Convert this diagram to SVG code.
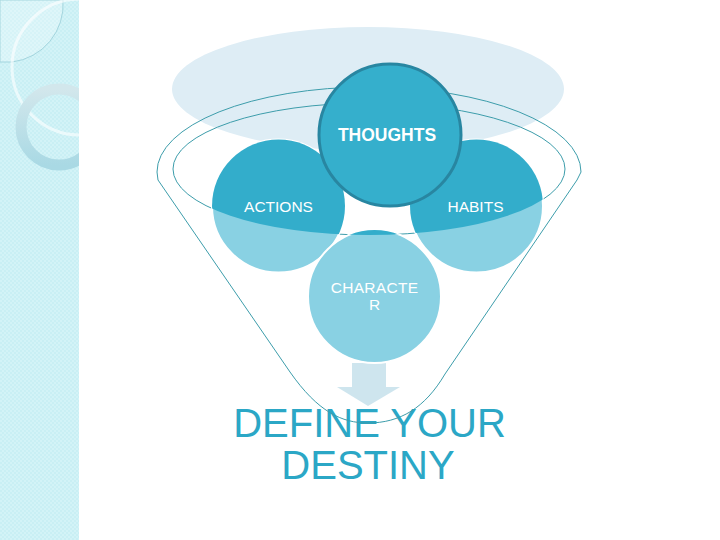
<svg xmlns="http://www.w3.org/2000/svg" width="720" height="540" viewBox="0 0 720 540">
<style>
.funnel{fill:none;stroke:#3d9dab;stroke-width:1}
.light{fill:#89d1e3;stroke:#ffffff;stroke-width:2}
.dark{fill:#33adcb}
.lbl{font-family:"Liberation Sans",Arial,sans-serif;font-size:15.5px;fill:#ffffff;text-anchor:middle}
.big{font-family:"Liberation Sans",Arial,sans-serif;font-size:40px;fill:#2ba7c6;text-anchor:middle}
</style>
<defs>
<pattern id="dots" width="4" height="4" patternUnits="userSpaceOnUse">
<rect width="4" height="4" fill="#c9eff4"/>
<rect width="2" height="2" fill="#d3f3f7"/>
<rect x="2" y="2" width="2" height="2" fill="#d3f3f7"/>
</pattern>
<clipPath id="strip"><rect x="0" y="0" width="79" height="540"/></clipPath>
<clipPath id="inner"><ellipse cx="369" cy="169" rx="196" ry="66"/></clipPath>
<linearGradient id="ring" x1="0" y1="0" x2="0" y2="1">
<stop offset="0" stop-color="#d2e7ec"/>
<stop offset="1" stop-color="#a9d9e4"/>
</linearGradient>
</defs>
<rect width="720" height="540" fill="#ffffff"/>
<g id="background">
<rect x="0" y="0" width="79" height="540" fill="url(#dots)"/>
<g clip-path="url(#strip)">
<path d="M0,0 L63,0 A58,58 0 0 1 12,62 L0,62 Z" fill="#ffffff" fill-opacity="0.25" stroke="#a3d5de" stroke-width="1"/>
<circle cx="80" cy="67" r="68" fill="none" stroke="#ffffff" stroke-width="3" stroke-opacity="0.6"/>
<circle cx="59" cy="127" r="38" fill="none" stroke="url(#ring)" stroke-width="11"/>
</g>
</g>
<ellipse id="backdrop" cx="368" cy="89" rx="196" ry="62" fill="#deedf5"/>
<g id="destiny">
<text class="big" x="369.5" y="437">DEFINE YOUR</text>
<text class="big" x="368" y="479">DESTINY</text>
</g>
<g id="connectors">
<path d="M369,363 L386,363 L386,387 L400,387 L368,406 L337,387 L352,387 L352,363 Z" fill="#c9e2ec" fill-opacity="0.9"/>
</g>
<g id="funnel">
<path class="funnel" d="M158,180 L157,172 A212,85 0 0 1 581,172 L577,180 L445,374 C425,408 400,423 368,423 C342,423 318,412 290,372 Z"/>
<ellipse class="funnel" cx="369" cy="169" rx="196" ry="66"/>
</g>
<g id="actions">
<circle class="light" cx="278.5" cy="206" r="66.5"/>
<circle class="dark" cx="278.5" cy="206" r="66.5" clip-path="url(#inner)"/>
<text class="lbl" x="278.5" y="212">ACTIONS</text>
</g>
<g id="habits">
<circle class="light" cx="476.5" cy="206" r="66.5"/>
<circle class="dark" cx="476.5" cy="206" r="66.5" clip-path="url(#inner)"/>
<text class="lbl" x="475.5" y="212">HABITS</text>
</g>
<g id="character">
<circle class="light" cx="374.5" cy="296.5" r="66.5"/>
<circle class="dark" cx="374.5" cy="296.5" r="66.5" clip-path="url(#inner)"/>
<text class="lbl" x="374.5" y="293" letter-spacing="0.3">CHARACTE</text>
<text class="lbl" x="374.5" y="310">R</text>
</g>
<g id="thoughts">
<circle cx="390" cy="135" r="71" fill="#35afcc" stroke="#2886a1" stroke-width="3"/>
<text x="387" y="141" font-family="'Liberation Sans',Arial,sans-serif" font-size="17.5" font-weight="bold" fill="#ffffff" text-anchor="middle">THOUGHTS</text>
</g>
</svg>
